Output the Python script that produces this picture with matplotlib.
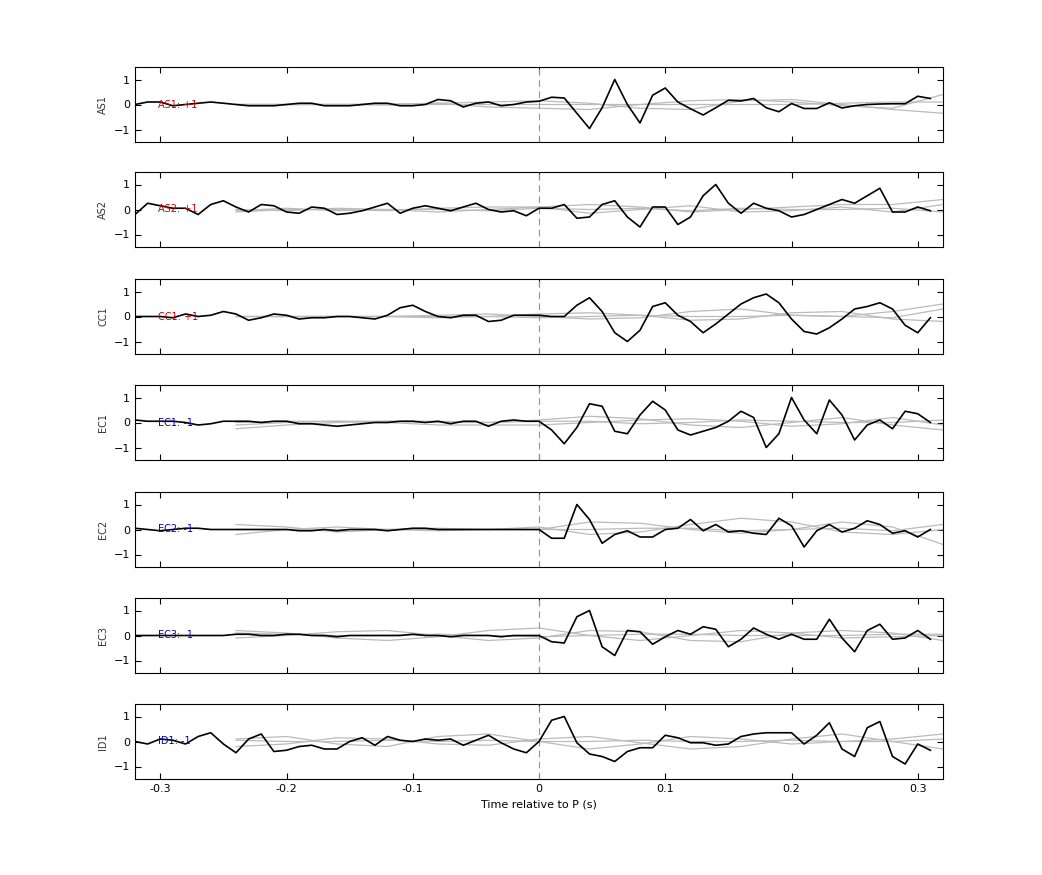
import numpy as np
import matplotlib
matplotlib.use("Agg")
import matplotlib.pyplot as plt

# black trace sampled every 0.01 s from -0.32 to 0.31
T = np.round(np.arange(-0.32, 0.315, 0.01), 2)

STATIONS = ["AS1", "AS2", "CC1", "EC1", "EC2", "EC3", "ID1"]
POLARITY = ["+1", "+1", "+1", "-1", "-1", "-1", "-1"]

AS1 = [0.0, 0.1, 0.1, -0.05, 0.0, 0.05, 0.1, 0.05, 0.0, -0.05, -0.05, -0.05, 0.0, 0.05, 0.05, -0.05,
       -0.05, -0.05, 0.0, 0.05, 0.05, -0.05, -0.05, 0.0, 0.2, 0.15, -0.1, 0.05, 0.1, -0.05, 0.0, 0.1,
       0.13, 0.29, 0.26, -0.35, -0.96, -0.13, 1.0, 0.0, -0.74, 0.37, 0.66, 0.1, -0.17, -0.42, -0.13, 0.17,
       0.14, 0.24, -0.13, -0.29, 0.04, -0.16, -0.16, 0.07, -0.14, -0.05, 0.0, 0.02, 0.03, 0.03, 0.33, 0.24]
AS2 = [-0.2, 0.25, 0.15, 0.05, 0.05, -0.2, 0.2, 0.35, 0.1, -0.1, 0.2, 0.15, -0.1, -0.15, 0.1, 0.05,
       -0.2, -0.15, -0.05, 0.1, 0.25, -0.15, 0.05, 0.15, 0.05, -0.05, 0.1, 0.25, 0.0, -0.1, -0.05, -0.25,
       0.05, 0.05, 0.2, -0.35, -0.3, 0.2, 0.35, -0.3, -0.7, 0.1, 0.1, -0.6, -0.3, 0.55, 1.0, 0.25,
       -0.15, 0.25, 0.05, -0.05, -0.3, -0.2, 0.0, 0.2, 0.4, 0.25, 0.55, 0.85, -0.1, -0.1, 0.1, -0.05]
CC1 = [0.0, 0.0, 0.0, -0.05, 0.1, 0.0, 0.05, 0.2, 0.1, -0.15, -0.05, 0.1, 0.05, -0.1, -0.05, -0.05,
       0.0, 0.0, -0.05, -0.1, 0.05, 0.35, 0.45, 0.2, 0.0, -0.05, 0.05, 0.05, -0.2, -0.15, 0.05, 0.05,
       0.05, 0.0, 0.0, 0.45, 0.75, 0.2, -0.65, -1.0, -0.55, 0.4, 0.55, 0.05, -0.2, -0.65, -0.3, 0.1,
       0.5, 0.75, 0.9, 0.55, -0.1, -0.6, -0.7, -0.45, -0.1, 0.3, 0.4, 0.55, 0.3, -0.35, -0.65, -0.05]
EC1 = [0.1, 0.05, 0.05, 0.05, 0.0, -0.1, -0.05, 0.05, 0.05, 0.05, 0.0, 0.05, 0.05, -0.05, -0.05, -0.1,
       -0.15, -0.1, -0.05, 0.0, 0.0, 0.05, 0.05, 0.0, 0.05, -0.05, 0.05, 0.05, -0.15, 0.05, 0.1, 0.05,
       0.05, -0.3, -0.85, -0.2, 0.75, 0.65, -0.35, -0.45, 0.3, 0.85, 0.5, -0.3, -0.5, -0.35, -0.2, 0.05,
       0.45, 0.2, -1.0, -0.45, 1.0, 0.1, -0.45, 0.9, 0.3, -0.7, -0.1, 0.1, -0.25, 0.45, 0.35, 0.0]
EC2 = [0.05, 0.0, -0.05, 0.0, 0.05, 0.05, 0.0, 0.0, 0.0, 0.0, 0.0, 0.0, 0.0, -0.05, -0.05, 0.0,
       -0.05, 0.0, 0.0, 0.0, -0.05, 0.0, 0.05, 0.05, 0.0, 0.0, 0.0, 0.0, 0.0, 0.0, 0.0, 0.0,
       0.0, -0.35, -0.35, 1.0, 0.4, -0.55, -0.2, -0.05, -0.3, -0.3, 0.0, 0.05, 0.4, -0.05, 0.2, -0.1,
       -0.05, -0.15, -0.2, 0.45, 0.15, -0.7, -0.05, 0.2, -0.1, 0.05, 0.35, 0.2, -0.15, -0.05, -0.3, 0.0]
EC3 = [0.0, 0.0, 0.0, 0.0, 0.0, 0.0, 0.0, 0.0, 0.05, 0.05, 0.0, 0.0, 0.05, 0.05, 0.0, 0.0,
       -0.05, 0.0, 0.0, 0.0, 0.0, 0.0, 0.05, 0.0, 0.0, -0.05, 0.0, 0.0, 0.0, -0.05, 0.0, 0.0,
       0.0, -0.25, -0.3, 0.75, 1.0, -0.45, -0.8, 0.2, 0.15, -0.35, -0.05, 0.2, 0.05, 0.35, 0.25, -0.45,
       -0.15, 0.3, 0.05, -0.15, 0.05, -0.15, -0.15, 0.65, -0.1, -0.65, 0.2, 0.45, -0.15, -0.1, 0.2, -0.15]
ID1 = [0.0, -0.1, 0.1, 0.05, -0.1, 0.2, 0.35, -0.1, -0.45, 0.1, 0.3, -0.4, -0.35, -0.2, -0.15, -0.3,
       -0.3, 0.0, 0.15, -0.15, 0.2, 0.05, 0.0, 0.1, 0.05, 0.1, -0.15, 0.05, 0.25, -0.05, -0.3, -0.45,
       0.0, 0.85, 1.0, -0.05, -0.5, -0.6, -0.8, -0.4, -0.25, -0.25, 0.25, 0.15, -0.05, -0.05, -0.15, -0.1,
       0.2, 0.3, 0.35, 0.35, 0.35, -0.1, 0.25, 0.75, -0.3, -0.6, 0.55, 0.8, -0.6, -0.9, -0.1, -0.35]
TRACES = [AS1, AS2, CC1, EC1, EC2, EC3, ID1]

# gray comparison traces, sampled every 0.04 s from -0.24 to 0.32
TG = np.round(np.arange(-0.24, 0.325, 0.04), 2)
GRAY = [
    [[0.0, 0.0, 0.0, 0.02, 0.05, 0.1, 0.15, 0.05, -0.15, -0.2, 0.15, 0.2, 0.0, -0.2, -0.35],
     [0.0, 0.0, 0.0, -0.02, 0.05, -0.1, -0.15, -0.2, 0.0, 0.15, 0.2, 0.1, -0.05, -0.15, 0.4],
     [0.0, 0.0, 0.0, 0.0, 0.0, 0.0, 0.0, 0.0, 0.0, 0.0, 0.0, 0.0, 0.05, 0.1, 0.1]],
    [[-0.1, 0.0, 0.0, -0.05, 0.05, 0.1, 0.1, 0.2, 0.1, -0.1, 0.0, 0.1, 0.2, 0.2, 0.4],
     [0.0, -0.05, 0.05, 0.0, -0.1, 0.0, 0.1, -0.15, 0.0, 0.15, -0.1, -0.05, 0.1, -0.1, 0.2],
     [-0.05, 0.05, -0.05, 0.0, 0.0, -0.05, 0.05, 0.0, 0.05, -0.05, 0.05, 0.0, 0.0, 0.05, -0.1]],
    [[0.0, 0.0, 0.0, 0.0, 0.05, 0.1, 0.0, -0.1, -0.05, 0.2, 0.3, 0.05, 0.0, 0.2, 0.5],
     [0.0, 0.0, 0.0, 0.0, -0.05, 0.0, 0.1, 0.15, 0.05, -0.15, -0.1, 0.15, 0.2, -0.1, -0.2],
     [0.0, 0.0, 0.0, 0.0, 0.0, 0.0, -0.05, 0.0, 0.05, 0.0, 0.0, 0.05, 0.0, -0.05, 0.3]],
    [[-0.25, -0.1, 0.0, 0.05, 0.05, 0.0, 0.1, 0.25, 0.15, -0.1, -0.2, 0.0, 0.2, -0.1, -0.3],
     [-0.1, 0.0, 0.05, 0.0, -0.1, -0.1, -0.1, 0.0, 0.1, 0.15, 0.05, -0.15, -0.05, 0.2, -0.1],
     [0.0, 0.05, 0.05, 0.05, 0.0, 0.0, 0.05, 0.05, -0.05, 0.0, 0.1, 0.05, 0.0, 0.0, 0.1]],
    [[0.2, 0.1, -0.1, 0.0, 0.05, 0.0, 0.0, 0.3, 0.25, 0.0, -0.15, 0.0, 0.3, 0.1, -0.6],
     [-0.2, 0.0, 0.1, 0.0, -0.05, 0.0, 0.1, -0.2, -0.1, 0.2, 0.45, 0.3, -0.1, -0.2, 0.0],
     [0.0, 0.0, 0.0, 0.0, 0.0, 0.0, 0.0, 0.0, 0.05, 0.05, -0.05, 0.0, 0.05, -0.05, 0.2]],
    [[0.2, 0.1, -0.1, -0.2, -0.05, 0.2, 0.3, 0.0, -0.2, 0.0, 0.2, 0.1, -0.1, -0.05, 0.0],
     [-0.1, 0.0, 0.15, 0.2, 0.0, -0.2, -0.1, 0.2, 0.15, -0.2, -0.25, 0.1, 0.2, 0.1, -0.2],
     [0.1, 0.05, 0.0, 0.0, 0.05, 0.0, -0.05, 0.0, 0.05, 0.05, 0.0, 0.0, 0.0, 0.05, 0.05]],
    [[0.1, 0.2, -0.1, -0.2, 0.2, 0.3, 0.0, -0.3, -0.1, 0.2, 0.1, -0.1, 0.0, 0.1, 0.3],
     [-0.2, -0.1, 0.15, 0.1, -0.1, -0.15, 0.1, 0.2, -0.05, -0.3, -0.2, 0.1, 0.3, 0.0, -0.3],
     [0.05, 0.0, 0.0, 0.05, 0.0, 0.05, 0.0, 0.0, 0.05, 0.0, 0.0, 0.05, 0.0, 0.0, 0.1]],
]

fig = plt.figure(figsize=(10.42, 8.75), dpi=100)
left, width = 135 / 1042, 808 / 1042
tops = [67, 172, 279, 385, 492, 598, 704]
h = 75 / 875

for k, st in enumerate(STATIONS):
    ax = fig.add_axes([left, 1 - (tops[k] + 75) / 875, width, h])
    for g in GRAY[k]:
        ax.plot(TG, g, color="#bbbbbb", lw=0.9)
    ax.axvline(0, color="#e07070", ls=(0, (6, 4)), lw=0.8)
    ax.plot(T, TRACES[k], color="black", lw=1.2)
    col = "#cc0000" if POLARITY[k] == "+1" else "#0000cc"
    ax.text(-0.302, 0, f"{st}: {POLARITY[k]}", color=col, fontsize=7, va="center")
    ax.set_xlim(-0.32, 0.32)
    ax.set_ylim(-1.5, 1.5)
    ax.set_yticks([-1, 0, 1])
    ax.set_xticks([-0.3, -0.2, -0.1, 0, 0.1, 0.2, 0.3])
    ax.tick_params(direction="in", top=True, right=True, labelsize=8, length=4)
    ax.set_ylabel(st, fontsize=7, color="#333333")
    if k < len(STATIONS) - 1:
        ax.set_xticklabels([])
    else:
        ax.set_xticklabels(["-0.3", "-0.2", "-0.1", "0", "0.1", "0.2", "0.3"])
        ax.set_xlabel("Time relative to P (s)", fontsize=8)

fig.savefig("out.png", dpi=100)
